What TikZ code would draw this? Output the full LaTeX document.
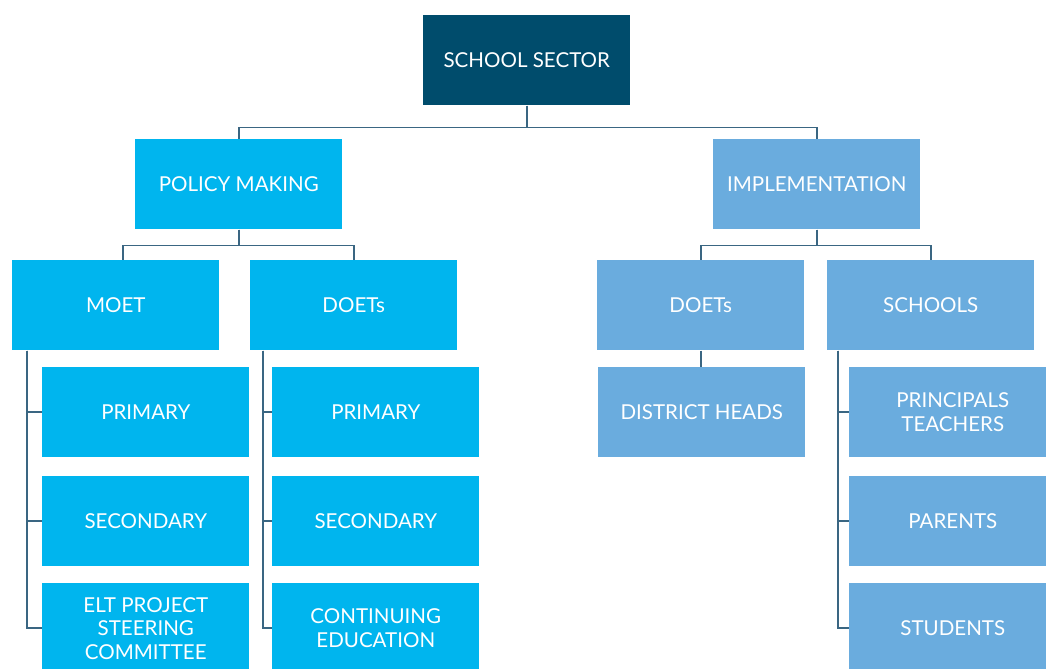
\documentclass[tikz,border=0pt]{standalone}
\usepackage{fontspec}
\setmainfont{Lato}
\usetikzlibrary{calc}
\definecolor{sectorblue}{RGB}{0,76,108}
\definecolor{policyblue}{RGB}{0,181,238}
\definecolor{implblue}{RGB}{106,172,222}
\definecolor{linkblue}{RGB}{58,102,130}

\begin{document}
\begin{tikzpicture}[x=0.75pt,y=-0.75pt,
	box/.style={anchor=north west,minimum width=155.25pt,minimum height=67.5pt,inner sep=0pt,
		text=white,align=center,font=\fontsize{15.4}{17.6}\selectfont},
	sectorbox/.style={box,fill=sectorblue},
	policybox/.style={box,fill=policyblue},
	implbox/.style={box,fill=implblue},
	link/.style={draw=linkblue,line width=1.4pt}]
	\useasboundingbox (0,0) rectangle (1046,668);
	\clip (0,0) rectangle (1046,668);
	% top level
	\node[sectorbox] (sector) at (423,15) {SCHOOL SECTOR};
	\node[policybox] (policy) at (135,139) {POLICY MAKING};
	\node[implbox] (impl) at (713,139) {IMPLEMENTATION};
	% policy making side
	\node[policybox] (moet) at (12,260) {MOET};
	\node[policybox] (ldoets) at (250,260) {DOETs};
	\node[policybox] (mprim) at (42,367) {PRIMARY};
	\node[policybox] (msec) at (42,476) {SECONDARY};
	\node[policybox] (melt) at (42,583) {ELT PROJECT\\STEERING\\COMMITTEE};
	\node[policybox] (dprim) at (272,367) {PRIMARY};
	\node[policybox] (dsec) at (272,476) {SECONDARY};
	\node[policybox] (dcont) at (272,583) {CONTINUING\\EDUCATION};
	% implementation side
	\node[implbox] (rdoets) at (597,260) {DOETs};
	\node[implbox] (schools) at (827,260) {SCHOOLS};
	\node[implbox] (heads) at (598,367) {DISTRICT HEADS};
	\node[implbox] (staff) at (849,367) {PRINCIPALS\\TEACHERS};
	\node[implbox] (parents) at (849,476) {PARENTS};
	\node[implbox] (students) at (849,583) {STUDENTS};
	% connectors
	\draw[link] (sector.south) -- ++(0,22) -| (policy.north);
	\draw[link] (sector.south) -- ++(0,22) -| (impl.north);
	\coordinate (moettop) at ($(moet.north)+(7,0)$);
	\draw[link] (policy.south) -- ++(0,16) -| (moettop);
	\draw[link] (policy.south) -- ++(0,16) -| (ldoets.north);
	\draw[link] (impl.south) -- ++(0,16) -| (rdoets.north);
	\draw[link] (impl.south) -- ++(0,16) -| (schools.north);
	\draw[link] (rdoets.south) -- (rdoets.south |- heads.north);
	\coordinate (mbar) at ($(moet.south west)+(15,0)$);
	\coordinate (dbar) at ($(ldoets.south west)+(13,0)$);
	\coordinate (sbar) at ($(schools.south west)+(11,0)$);
	\foreach \kid in {mprim,msec,melt}
		\draw[link] (mbar) |- (\kid.west);
	\foreach \kid in {dprim,dsec,dcont}
		\draw[link] (dbar) |- (\kid.west);
	\foreach \kid in {staff,parents,students}
		\draw[link] (sbar) |- (\kid.west);
\end{tikzpicture}
\end{document}
